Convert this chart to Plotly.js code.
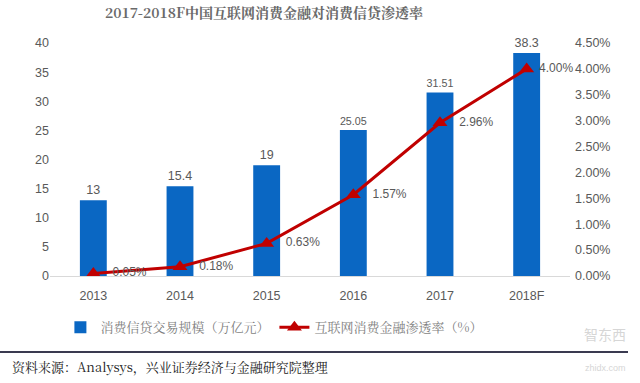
<!DOCTYPE html>
<html><head><meta charset="utf-8">
<script src="https://cdn.plot.ly/plotly-3.0.1.min.js"></script>
<style>html,body{margin:0;padding:0;background:#fff}#c{width:640px;height:383px}</style>
</head><body><div id="c"></div>
<script>
const categories = ["2013","2014","2015","2016","2017","2018F"];
const creditScale = [13, 15.4, 19, 25.05, 31.51, 38.3];
const penetration = [0.0005, 0.0018, 0.0063, 0.0157, 0.0296, 0.0400];
const creditLabels = ["13","15.4","19","25.05","31.51","38.3"];
const penetrationLabels = ["0.05%","0.18%","0.63%","1.57%","2.96%","4.00%"];

const tickFont = {family: "Liberation Sans, Arial, sans-serif", size: 12.5, color: "#595959"};
const cjk = "Noto Serif CJK SC, Noto Sans CJK SC, serif";
const pad = ["&nbsp;&nbsp;&nbsp;","&nbsp;&nbsp;&nbsp;","&nbsp;&nbsp;&nbsp;","&nbsp;&nbsp;&nbsp;","&nbsp;&nbsp;&nbsp;","&nbsp;"];

const traces = [
  {type: "bar", x: categories, y: creditScale, name: "消费信贷交易规模（万亿元）",
   marker: {color: "#0a67c3"}, text: creditLabels, textposition: "outside",
   textfont: tickFont, cliponaxis: false, hoverinfo: "none"},
  {type: "scatter", mode: "lines+markers+text", x: categories, y: penetration, yaxis: "y2",
   name: "互联网消费金融渗透率（%）",
   line: {color: "#c00000", width: 3}, marker: {symbol: "triangle-up", size: 13, color: "#c00000"},
   text: penetrationLabels.map((s, i) => pad[i] + s), textposition: "middle right",
   textfont: Object.assign({}, tickFont, {size: 12}), cliponaxis: false, hoverinfo: "none"}
];

const layout = {
  width: 640, height: 383,
  margin: {l: 50, r: 70, t: 43, b: 107},
  paper_bgcolor: "#fff", plot_bgcolor: "#fff",
  showlegend: true,
  bargap: 0.69,
  title: {text: "<b>2017-2018F中国互联网消费金融对消费信贷渗透率</b>", x: 264/640, xanchor: "center", y: 0.965, yanchor: "middle",
          font: {family: cjk, size: 14, color: "#6a6a6a"}},
  xaxis: {type: "category", tickfont: tickFont, showgrid: false, showline: true, linecolor: "#d9d9d9", linewidth: 1, ticks: "",
          ticklabelstandoff: 8, fixedrange: true},
  yaxis: {range: [0, 40], dtick: 5, tickfont: tickFont, showgrid: false, zeroline: false, showline: false, ticks: "", fixedrange: true},
  yaxis2: {range: [0, 0.045], dtick: 0.005, tickformat: ".2%", overlaying: "y", side: "right", tickfont: tickFont,
           showgrid: false, zeroline: false, showline: false, ticks: "", ticklabelstandoff: 4, fixedrange: true},
  legend: {orientation: "h", x: 0.02, xanchor: "left", y: -0.22, yanchor: "middle",
           font: {family: cjk, size: 13, color: "#7f7f7f"}, itemwidth: 30, tracegroupgap: 0},
  shapes: [
    {type: "line", xref: "paper", yref: "paper", x0: -50/520, x1: 578/520, y0: -76/233, y1: -76/233,
     line: {color: "#3a3a50", width: 2}}
  ],
  annotations: [
    {text: "资料来源：Analysys，兴业证券经济与金融研究院整理", xref: "paper", yref: "paper",
     x: -40/520, xanchor: "left", y: -90/233, yanchor: "middle", showarrow: false,
     font: {family: cjk, size: 13, color: "#222"}},
    {text: "智东西", xref: "paper", yref: "paper", x: 578/520, xanchor: "right", y: -58/233, yanchor: "middle",
     showarrow: false, font: {family: "Noto Sans CJK SC, sans-serif", size: 14, color: "#d6d6d6"}},
    {text: "zhidx.com", xref: "paper", yref: "paper", x: 578/520, xanchor: "right", y: -92/233, yanchor: "middle",
     showarrow: false, font: {family: "Liberation Sans, sans-serif", size: 9, color: "#d6d6d6"}}
  ]
};

Plotly.newPlot("c", traces, layout, {displayModeBar: false, staticPlot: true});
</script></body></html>
